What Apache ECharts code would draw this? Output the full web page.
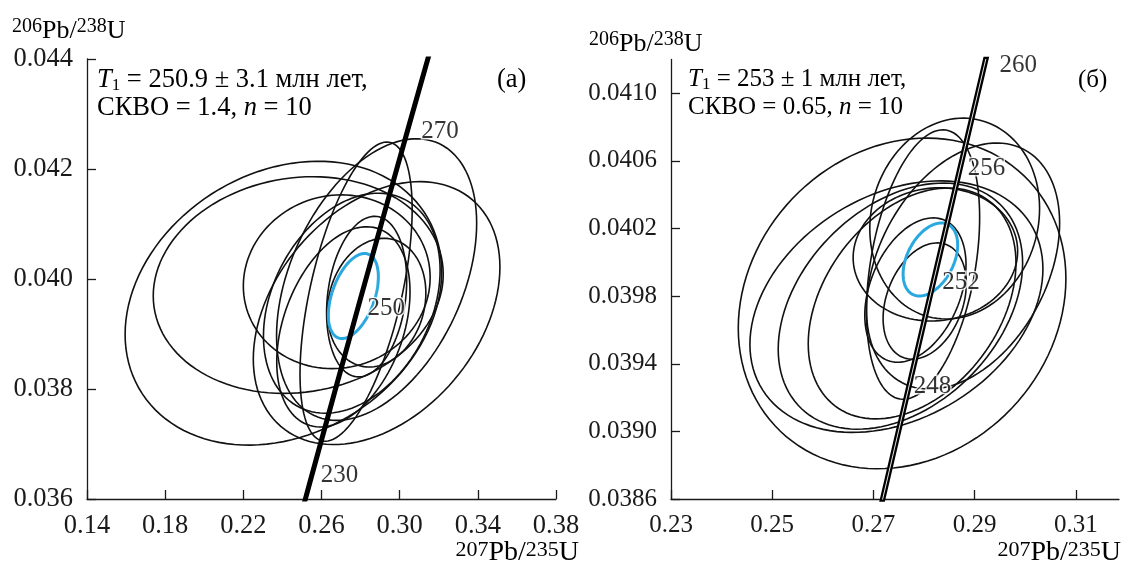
<!DOCTYPE html>
<html>
<head>
<meta charset="utf-8">
<script src="https://cdn.jsdelivr.net/npm/echarts@6/dist/echarts.min.js"></script>
<style>
  html, body { margin: 0; padding: 0; background: #fff; }
  #chart { width: 1121px; height: 568px; }
</style>
</head>
<body>
<div id="chart"></div>
<script>
// concordia curve, ages in Ma with 207Pb/235U and 206Pb/238U
const concAgesA = [225, 230, 240, 250, 260, 270, 280];
const concXA = [0.24806, 0.25422, 0.26664, 0.27917, 0.29183, 0.30462, 0.31753];
const concYA = [0.035519, 0.036323, 0.037932, 0.039543, 0.041157, 0.042773, 0.044392];
const labelAgesA = [230, 250, 270];

const concAgesB = [244, 248, 252, 256, 260, 261];
const concXB = [0.27163, 0.27665, 0.28169, 0.28675, 0.29183, 0.29311];
const concYB = [0.038576, 0.039221, 0.039866, 0.040511, 0.041157, 0.041319];
const labelAgesB = [248, 252, 256, 260];

// error ellipses: centre, half extent along x and y, correlation
const ellAx = [0.2405, 0.2481, 0.2678, 0.2882, 0.2882, 0.2777, 0.2831, 0.2882, 0.2755, 0.2712];
const ellAy = [0.03956, 0.03989, 0.03995, 0.03938, 0.03999, 0.03977, 0.03968, 0.03957, 0.03956, 0.03913];
const ellAsx = [0.0810, 0.0742, 0.0478, 0.0631, 0.0512, 0.0287, 0.0205, 0.0252, 0.0452, 0.0341];
const ellAsy = [0.00258, 0.00197, 0.00158, 0.00239, 0.00256, 0.00272, 0.00146, 0.00117, 0.0020, 0.00182];
const ellArho = [0.22, 0.1, 0.05, 0.35, 0.4, 0.55, 0.2, 0.15, 0.3, 0.35];
const meanA = [0.2763, 0.03969, 0.0128, 0.000773, 0.45];

const ellBx = [0.27565, 0.27453, 0.27532, 0.27763, 0.28223, 0.28604, 0.28769, 0.27979, 0.27828, 0.28012];
const ellBy = [0.039757, 0.039738, 0.039741, 0.039757, 0.040047, 0.040259, 0.039978, 0.039987, 0.039836, 0.039771];
const ellBsx = [0.03236, 0.02894, 0.02414, 0.02052, 0.01625, 0.01677, 0.01908, 0.01118, 0.0100, 0.00822];
const ellBsy = [0.000978, 0.000744, 0.000728, 0.000683, 0.000394, 0.000594, 0.000728, 0.000797, 0.000427, 0.000344];
const ellBrho = [0.15, 0.3, 0.35, 0.35, 0.05, 0.1, 0.35, 0.35, 0.35, 0.3];
const meanB = [0.28124, 0.040017, 0.00539, 0.000216, 0.4];

// tick values
const xTicksA = [0.14, 0.18, 0.22, 0.26, 0.30, 0.34, 0.38];
const yTicksA = [0.036, 0.038, 0.040, 0.042, 0.044];
const xTicksB = [0.23, 0.25, 0.27, 0.29, 0.31];
const yTicksB = [0.0386, 0.0390, 0.0394, 0.0398, 0.0402, 0.0406, 0.0410];

const FONT = 'Liberation Serif';
const AXIS_COLOR = '#1a1a1a';
const BLUE = '#2aa8e0';
const FS_A = 26.5;
const FS_B = 25;

const labelOffsets = {
    230: [2, -6], 250: [0, 4], 270: [4, 5],
    248: [-2, -8], 252: [1, -3], 256: [1, -8], 260: [7, -1]
};

function zip(xs, ys) {
    return xs.map((x, i) => [x, ys[i]]);
}

function ellipseData(xs, ys, sxs, sys, rhos) {
    return xs.map((x, i) => [x, ys[i], sxs[i], sys[i], rhos[i]]);
}

function renderEllipse(color, width) {
    return function (params, api) {
        const cx = api.value(0), cy = api.value(1);
        const sx = api.value(2), sy = api.value(3), rho = api.value(4);
        const k = Math.sqrt(1 - rho * rho);
        const points = [];
        for (let s = 0; s <= 120; s++) {
            const t = s / 120 * Math.PI * 2;
            const c = Math.cos(t), sn = Math.sin(t);
            points.push(api.coord([cx + sx * c, cy + sy * (rho * c + k * sn)]));
        }
        return {
            type: 'polygon',
            shape: {points: points},
            style: {fill: 'none', stroke: color, lineWidth: width}
        };
    };
}

function ellipseSeries(axis, data, color, width, z) {
    return {
        type: 'custom',
        xAxisIndex: axis,
        yAxisIndex: axis,
        renderItem: renderEllipse(color, width),
        data: data,
        encode: {x: 0, y: 1},
        z: z,
        silent: true
    };
}

function labelSeries(axis, ages, xs, ys, labelAges) {
    return {
        type: 'scatter',
        xAxisIndex: axis,
        yAxisIndex: axis,
        symbolSize: 1,
        itemStyle: {color: 'rgba(0,0,0,0)'},
        z: 10,
        label: {
            show: true,
            position: 'right',
            distance: 8,
            fontFamily: FONT,
            fontSize: 25,
            color: '#000',
            textBorderColor: '#fff',
            textBorderWidth: 3,
            formatter: p => p.name
        },
        data: labelAges.map(t => {
            const i = ages.indexOf(t);
            return {name: String(t), value: [xs[i], ys[i]], label: {offset: labelOffsets[t]}};
        })
    };
}

function valueAxis(grid, min, max, ticks, digits, fs) {
    return {
        type: 'value',
        gridIndex: grid,
        min: min,
        max: max,
        axisLine: {show: true, onZero: false, lineStyle: {color: AXIS_COLOR, width: 1.3}},
        axisTick: {show: true, inside: true, length: 9, customValues: ticks,
            lineStyle: {color: AXIS_COLOR, width: 1.3}},
        axisLabel: {
            customValues: ticks,
            fontFamily: FONT,
            fontSize: fs,
            color: '#1a1a1a',
            margin: 14,
            formatter: v => v.toFixed(digits)
        },
        splitLine: {show: false}
    };
}

function makeRich(fs, supFs) {
    return {
        m: {fontFamily: FONT, fontSize: fs, color: '#111', lineHeight: 28},
        i: {fontFamily: FONT, fontSize: fs, fontStyle: 'italic', color: '#111', lineHeight: 28},
        sub: {fontFamily: FONT, fontSize: 17, color: '#111', lineHeight: 14, verticalAlign: 'bottom'},
        sup: {fontFamily: FONT, fontSize: supFs || 20, color: '#111', lineHeight: 14, verticalAlign: 'top'}
    };
}

function textEl(text, x, y, fs, align, supFs) {
    return {
        type: 'text',
        x: x,
        y: y,
        z: 20,
        style: {
            text: text,
            rich: makeRich(fs, supFs),
            align: align || 'left',
            verticalAlign: 'middle'
        }
    };
}

const yName = '{sup|206}{m|Pb/}{sup|238}{m|U}';
const xName = '{sup|207}{m|Pb/}{sup|235}{m|U}';

const chart = echarts.init(document.getElementById('chart'));

chart.setOption({
    animation: false,
    backgroundColor: '#fff',
    grid: [
        {left: 87, top: 59, width: 469, height: 440},
        {left: 671, top: 59.5, width: 448, height: 439.5}
    ],
    xAxis: [
        valueAxis(0, 0.14, 0.38, xTicksA, 2, FS_A),
        valueAxis(1, 0.23, 0.3185, xTicksB, 2, FS_B)
    ],
    yAxis: [
        valueAxis(0, 0.036, 0.044, yTicksA, 3, FS_A),
        valueAxis(1, 0.0386, 0.0412, yTicksB, 4, FS_B)
    ],
    graphic: [
        textEl(yName, 12, 31, 26),
        textEl(yName, 589, 44, 26),
        textEl(xName, 579, 553, 28, 'right', 22),
        textEl(xName, 1121, 553, 28, 'right', 22),
        textEl('{i|T}{sub|1}{m| = 250.9 ± 3.1 млн лет,}\n{m|СКВО = 1.4, }{i|n}{m| = 10}', 97, 94, FS_A),
        textEl('{i|T}{sub|1}{m| = 253 ± 1 млн лет,}\n{m|СКВО = 0.65, }{i|n}{m| = 10}', 688, 93, FS_B),
        textEl('{m|(а)}', 497, 80, FS_A),
        textEl('{m|(б)}', 1078, 80, FS_B)
    ],
    series: [
        ellipseSeries(0, ellipseData(ellAx, ellAy, ellAsx, ellAsy, ellArho), '#111', 1.6, 2),
        ellipseSeries(0, [meanA], BLUE, 3, 3),
        {
            type: 'line',
            xAxisIndex: 0,
            yAxisIndex: 0,
            data: zip(concXA, concYA),
            showSymbol: false,
            lineStyle: {color: '#000', width: 5},
            z: 5,
            silent: true
        },
        labelSeries(0, concAgesA, concXA, concYA, labelAgesA),

        ellipseSeries(1, ellipseData(ellBx, ellBy, ellBsx, ellBsy, ellBrho), '#111', 1.6, 2),
        ellipseSeries(1, [meanB], BLUE, 3, 3),
        {
            type: 'line',
            xAxisIndex: 1,
            yAxisIndex: 1,
            data: zip(concXB, concYB),
            showSymbol: false,
            lineStyle: {color: '#000', width: 5.5},
            z: 5,
            silent: true
        },
        {
            type: 'line',
            xAxisIndex: 1,
            yAxisIndex: 1,
            data: zip(concXB, concYB),
            showSymbol: false,
            lineStyle: {color: '#fff', width: 0.9},
            z: 6,
            silent: true
        },
        labelSeries(1, concAgesB, concXB, concYB, labelAgesB)
    ]
});
</script>
</body>
</html>
